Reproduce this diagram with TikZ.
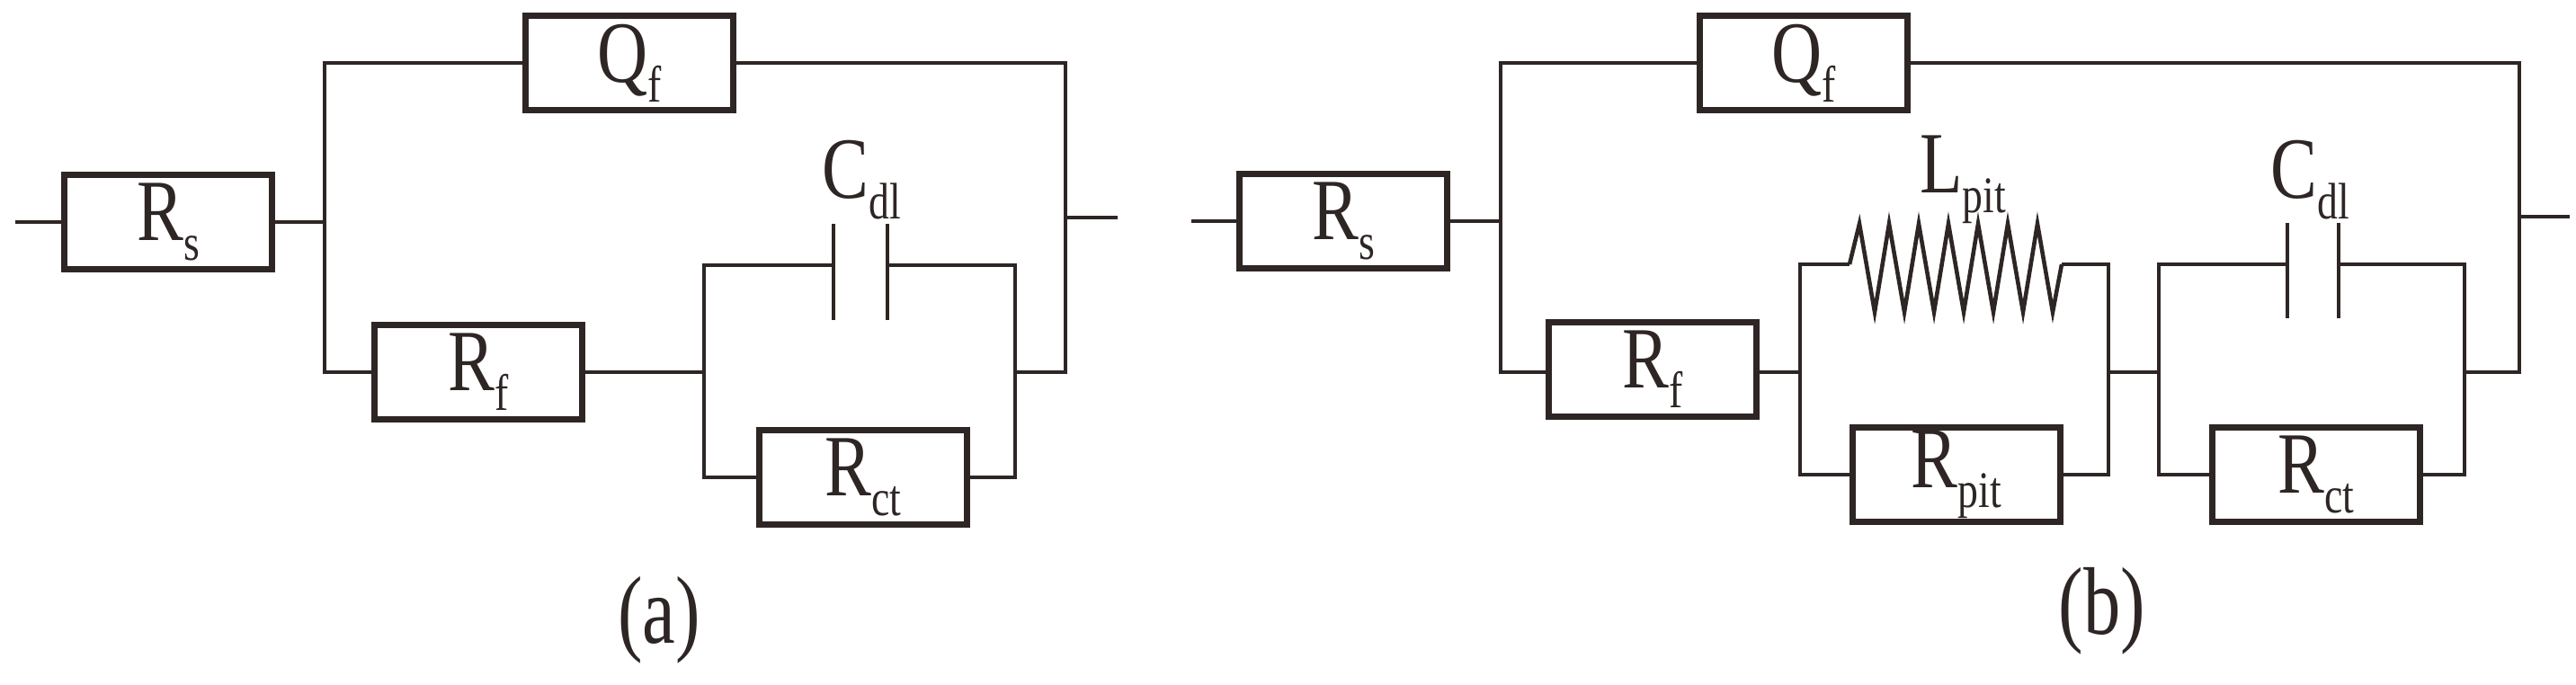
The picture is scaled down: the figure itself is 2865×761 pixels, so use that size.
\documentclass[tikz,border=0pt]{standalone}
\usepackage{fontspec}
\setmainfont{Liberation Serif}
\usetikzlibrary{positioning}
\definecolor{wire}{HTML}{2E2624}
\newcommand\sym[2]{\scalebox{0.8}[1]{#1\raisebox{-0.5ex}{\fontsize{20}{22}\selectfont #2}}}
\tikzset{
  elem/.style={draw=wire, line width=2.4pt, minimum width=81pt, minimum height=37pt,
    inner sep=0pt, font=\fontsize{34}{36}\selectfont, text=wire},
  cable/.style={draw=wire, line width=1.6pt},
  plate/.style={draw=wire, line width=1.7pt},
  tag/.style={font=\fontsize{34}{36}\selectfont, text=wire}
}
\begin{document}
\begin{tikzpicture}[x=0.35pt, y=-0.35pt]

  \useasboundingbox (0,0) rectangle (2865,761);

  % (a)
  \node[elem] (Rsa) at (187,247) {\sym{R}{s}};
  \node[elem] (Qfa) at (700,70) {\sym{Q}{f}};
  \node[elem] (Rfa) at (532,414) {\sym{R}{f}};
  \node[elem] (Rcta) at (960,531) {\sym{R}{ct}};
  \coordinate (ina) at (17,247);
  \coordinate (outa) at (1243,242);

  \draw[cable] (ina) -- (Rsa.west);
  \draw[cable] (Rsa.east) -- (361,247);
  \draw[cable] (Qfa.west) -| (361,414) -- (Rfa.west);
  \draw[cable] (Qfa.east) -| (1185,414) -- (1129,414);
  \draw[cable] (1185,242) -- (outa);
  \draw[cable] (Rfa.east) -- (783,414);
  \draw[cable] (927,295) -| (783,531) -- (Rcta.west);
  \draw[cable] (987,295) -| (1129,531) -- (Rcta.east);
  \draw[plate] (927,249) -- (927,356);
  \draw[plate] (987,249) -- (987,356);
  \node[tag] (Cdla) at (958,200) {\sym{C}{dl}};
  \node[tag] (capa) at (733,690) {\scalebox{0.85}[1.1]{(a)}};

  % (b)
  \node[elem] (Rsb) at (1494,246) {\sym{R}{s}};
  \node[elem] (Qfb) at (2006,70) {\sym{Q}{f}};
  \node[elem] (Rfb) at (1838,411) {\sym{R}{f}};
  \node[elem] (Rpit) at (2176,528) {\sym{R}{pit}};
  \node[elem] (Rctb) at (2576,528) {\sym{R}{ct}};
  \coordinate (inb) at (1325,246);
  \coordinate (outb) at (2858,241);

  \draw[cable] (inb) -- (Rsb.west);
  \draw[cable] (Rsb.east) -- (1669,246);
  \draw[cable] (Qfb.west) -| (1669,414) -- (Rfb.west |- 0,414);
  \draw[cable] (Qfb.east) -| (2802,414) -- (2741,414);
  \draw[cable] (2802,241) -- (outb);
  \draw[cable] (Rfb.east |- 0,414) -- (2002,414);
  \draw[cable] (2057,294) -| (2002,528) -- (Rpit.west);
  \draw[cable] (2293,294) -| (2345,528) -- (Rpit.east);
  \draw[cable] (2345,414) -- (2401,414);
  \draw[cable] (2057,294) -- (2068,249)
    \foreach \k in {0,...,5} { -- ({2085+\k*33},347) -- ({2101+\k*33},249) }
    -- (2283,347) -- (2293,294);
  \draw[cable] (2544,294) -| (2401,528) -- (Rctb.west);
  \draw[cable] (2601,294) -| (2741,528) -- (Rctb.east);
  \draw[plate] (2544,248) -- (2544,354);
  \draw[plate] (2601,248) -- (2601,354);
  \node[tag] (Lpit) at (2183,200) {\sym{L}{pit}};
  \node[tag] (Cdlb) at (2569,200) {\sym{C}{dl}};
  \node[tag] (capb) at (2338,680) {\scalebox{0.85}[1.1]{(b)}};

\end{tikzpicture}
\end{document}
